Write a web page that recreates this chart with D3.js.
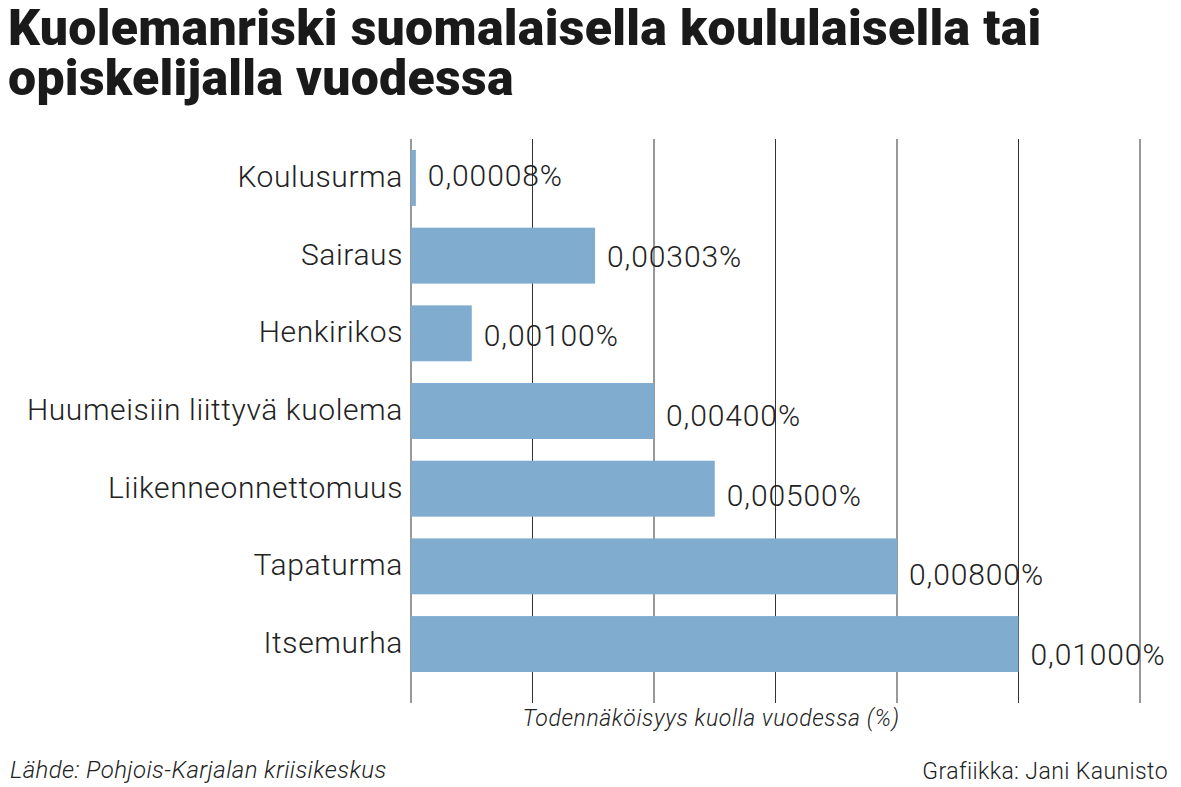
<!DOCTYPE html>
<html><head><meta charset="utf-8">
<script src="https://cdn.jsdelivr.net/npm/d3@7"></script>
<style>body{margin:0;background:#fff}</style></head>
<body><svg id="c" width="1181" height="787"></svg>
<script>
const categories=["Koulusurma","Sairaus","Henkirikos","Huumeisiin liittyvä kuolema","Liikenneonnettomuus","Tapaturma","Itsemurha"];
const values=[0.00008,0.00303,0.001,0.004,0.005,0.008,0.01];
const valueLabels=["0,00008%","0,00303%","0,00100%","0,00400%","0,00500%","0,00800%","0,01000%"];
const ticks=[0,0.002,0.004,0.006,0.008,0.010,0.012];
const svg=d3.select("#c");
const x=d3.scaleLinear().domain([0,0.012]).range([411,1140]);
const y=d3.scaleBand().domain(categories).range([150,672]).paddingInner(0.28).paddingOuter(0);
const F="Roboto, 'Open Sans', sans-serif";
const title=["Kuolemanriski suomalaisella koululaisella tai","opiskelijalla vuodessa"];
svg.selectAll("text.t").data(title).join("text").attr("x",8).attr("y",(d,i)=>45+i*50).attr("font-family",F).attr("font-weight",900).attr("font-size",50).attr("fill","#1a1a1a").attr("letter-spacing",0.3).text(d=>d);
svg.selectAll("line.g").data(ticks).join("line").attr("x1",d=>x(d)).attr("x2",d=>x(d)).attr("y1",139).attr("y2",703).attr("stroke","#333").attr("stroke-width",1);
svg.selectAll("rect").data(values).join("rect").attr("x",x(0)).attr("y",(d,i)=>y(categories[i])).attr("width",d=>Math.max(1,x(d)-x(0))).attr("height",y.bandwidth()).attr("fill","#80acd0");
svg.selectAll("text.c").data(categories).join("text").attr("x",403).attr("y",d=>y(d)+y.bandwidth()/2+9).attr("text-anchor","end").attr("font-family",F).attr("font-weight",300).attr("font-size",30).attr("letter-spacing",0.6).attr("fill","#222").text(d=>d);
svg.selectAll("text.v").data(values).join("text").attr("x",d=>Math.max(x(d),x(0)+4)+12).attr("y",(d,i)=>y(categories[i])+y.bandwidth()/2+8+[0,3,5,7,9,11,13][i]).attr("font-family",F).attr("font-weight",300).attr("font-size",30).attr("letter-spacing",0.9).attr("fill","#222").text((d,i)=>valueLabels[i]);
svg.append("text").attr("x",711).attr("y",726).attr("text-anchor","middle").attr("font-family",F).attr("font-style","italic").attr("font-weight",300).attr("font-size",23).attr("letter-spacing",0.6).attr("fill","#222").text("Todennäköisyys kuolla vuodessa (%)");
svg.append("text").attr("x",10).attr("y",778).attr("font-family",F).attr("font-style","italic").attr("font-weight",300).attr("font-size",24).attr("letter-spacing",0.4).attr("fill","#222").text("Lähde: Pohjois-Karjalan kriisikeskus");
svg.append("text").attr("x",1168).attr("y",779).attr("text-anchor","end").attr("font-family",F).attr("font-weight",300).attr("font-size",23).attr("letter-spacing",0.4).attr("fill","#222").text("Grafiikka: Jani Kaunisto");
</script></body></html>
